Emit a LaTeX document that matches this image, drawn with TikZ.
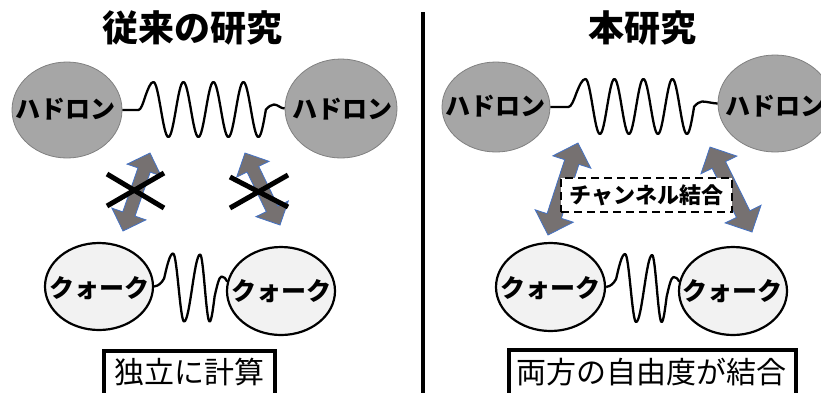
\documentclass[tikz,border=0pt]{standalone}
\usepackage{fontspec}
\setmainfont{Noto Sans CJK JP}
\usetikzlibrary{shapes.geometric,calc}
\definecolor{hadfill}{HTML}{A6A6A6}
\definecolor{hadedge}{HTML}{808080}
\definecolor{qfill}{HTML}{F2F2F2}
\definecolor{arrfill}{HTML}{767171}
\definecolor{arredge}{HTML}{4472C4}
% #1 start, #2 end, #3 head length, #4 head half width, #5 shaft half width
\newcommand\dblarrow[5]{%
  \draw[barrow] (#1) -- ($(#1)!#3!(#2)!#4!90:(#2)$) -- ($(#1)!#3!(#2)!#5!90:(#2)$)
    -- ($(#2)!#3!(#1)!#5!-90:(#1)$) -- ($(#2)!#3!(#1)!#4!-90:(#1)$) -- (#2)
    -- ($(#2)!#3!(#1)!#4!90:(#1)$) -- ($(#2)!#3!(#1)!#5!90:(#1)$)
    -- ($(#1)!#3!(#2)!#5!-90:(#2)$) -- ($(#1)!#3!(#2)!#4!-90:(#2)$) -- cycle;}
\newcommand\qwave[2]{%
  \draw[wave] (#1.east) .. controls +(5,-1) and +(-3,5) .. ++(10,-8)
    sin ++(9,-25) cos ++(5.5,34) sin ++(5.5,34)
    cos ++(8,-33.5) sin ++(8,-33.5) cos ++(4.75,33.5) sin ++(4.75,33.5)
    cos ++(5,-25) sin ++(7,-20) .. controls +(3,0) and +(-2,-3) .. (#2.170);}
\begin{document}
\begin{tikzpicture}[x=1pt,y=-1pt,
  had/.style={ellipse, fill=hadfill, draw=hadedge, line width=0.8pt, inner sep=0pt},
  qrk/.style={ellipse, fill=qfill, draw=black, line width=2.2pt, inner sep=0pt},
  wave/.style={line width=2.3pt, line join=round},
  lbl/.style={font=\bfseries\fontsize{25}{25}\selectfont, inner sep=0pt},
  ttl/.style={font=\bfseries\fontsize{36}{36}\selectfont, inner sep=0pt},
  bbox/.style={line width=4pt, line join=miter},
  btext/.style={font=\fontsize{30}{30}\selectfont, inner sep=0pt},
  barrow/.style={fill=arrfill, draw=arredge, line width=0.8pt, line join=miter},
  cross/.style={line width=5pt}]
\useasboundingbox (0,0) rectangle (821,392);
\clip (0,0) rectangle (821,392);

% titles
\node[ttl] (t1) at (192.5,28) {従来の研究};
\node[ttl] (t2) at (642,28) {本研究};

% divider
\coordinate (vt) at (422.5,12);
\coordinate (vb) at (422.5,400);
\draw[line width=4pt] (vt) -- (vb);

% hadrons
\node[had, minimum width=110pt, minimum height=96pt] (hL1) at (67,110) {};
\node[had, minimum width=112pt, minimum height=99pt] (hL2) at (341,108.5) {};
\node[had, minimum width=108pt, minimum height=90pt] (hR1) at (496,107) {};
\node[had, minimum width=114pt, minimum height=97pt] (hR2) at (775,103.5) {};
\node[lbl] (hL1t) at (65,109) {ハドロン};
\node[lbl] (hL2t) at (342,109) {ハドロン};
\node[lbl] (hR1t) at (495,106) {ハドロン};
\node[lbl] (hR2t) at (775,106) {ハドロン};

% quarks
\node[qrk, minimum width=108pt, minimum height=87pt] (qL1) at (99,286.5) {};
\node[qrk, minimum width=108pt, minimum height=88pt] (qL2) at (281,291) {};
\node[qrk, minimum width=109pt, minimum height=88pt] (qR1) at (550.5,287) {};
\node[qrk, minimum width=108pt, minimum height=88pt] (qR2) at (733,291) {};
\node[lbl] (qL1t) at (99,288) {クォーク};
\node[lbl] (qL2t) at (281,291) {クォーク};
\node[lbl] (qR1t) at (550,288) {クォーク};
\node[lbl] (qR2t) at (732,291) {クォーク};

% hadron waves
\draw[wave] (hL1.east) -- ++(16,0) cos ++(7,-14) sin ++(8,-14)
  cos ++(7.5,27.5) sin ++(7.5,27.5)
  cos ++(7.5,-27.5) sin ++(7.5,-27.5)
  cos ++(7.5,27.5) sin ++(7.5,27.5)
  cos ++(7.5,-27.5) sin ++(7.5,-27.5)
  cos ++(7.5,27.5) sin ++(7.5,27.5)
  cos ++(7.5,-27.5) sin ++(7.5,-27.5)
  cos ++(7.5,27.5) sin ++(7.5,27.5)
  cos ++(7.5,-27.5) sin ++(8,-5)
  .. controls +(4,0) and +(-4,0) .. (hL2.west);
\draw[wave] (hR1.east) -- ++(18,0) cos ++(8,-14) sin ++(9,-14)
  cos ++(7.25,27.5) sin ++(7.25,27.5)
  cos ++(7.25,-27.5) sin ++(7.25,-27.5)
  cos ++(7.25,27.5) sin ++(7.25,27.5)
  cos ++(7.25,-27.5) sin ++(7.25,-27.5)
  cos ++(7.25,27.5) sin ++(7.25,27.5)
  cos ++(7.25,-27.5) sin ++(7.25,-27.5)
  cos ++(7.25,27.5) sin ++(7.25,27.5)
  cos ++(7.25,-27.5) sin ++(8,-5)
  .. controls +(4,0) and +(-4,0) .. (hR2.west);

% quark waves
\qwave{qL1}{qL2}
\qwave{qR1}{qR2}

% arrows
\coordinate (a1s) at (578,143); \coordinate (a1e) at (548,235);
\coordinate (a2s) at (710,147); \coordinate (a2e) at (752,232);
\coordinate (b1s) at (150,153); \coordinate (b1e) at (123,231);
\coordinate (b2s) at (245,153); \coordinate (b2e) at (280,225);
\dblarrow{a1s}{a1e}{20pt}{20pt}{7.5pt}
\dblarrow{a2s}{a2e}{20pt}{20pt}{7.5pt}
\dblarrow{b1s}{b1e}{18pt}{18pt}{6.5pt}
\dblarrow{b2s}{b2e}{18pt}{18pt}{6.5pt}

% crosses
\draw[cross] (107,174) -- (164,208);
\draw[cross] (107,206) -- (164,173);
\draw[cross] (230,177) -- (288,207);
\draw[cross] (230,208) -- (288,175);

% channel coupling
\node[draw, dash pattern=on 8pt off 5pt, line width=2.5pt, fill=white,
      minimum width=171pt, minimum height=34pt, inner sep=0pt,
      font=\bfseries\fontsize{22}{22}\selectfont] (cc) at (646.5,195) {チャンネル結合};

% bottom boxes
\coordinate (bx1a) at (104,351); \coordinate (bx1b) at (275,402);
\coordinate (bx2a) at (509,350); \coordinate (bx2b) at (796,402);
\draw[bbox] (bx1a) rectangle (bx1b);
\draw[bbox] (bx2a) rectangle (bx2b);
\node[btext] (bt1) at (189.5,372) {独立に計算};
\node[btext] (bt2) at (651,372) {両方の自由度が結合};
\end{tikzpicture}
\end{document}
